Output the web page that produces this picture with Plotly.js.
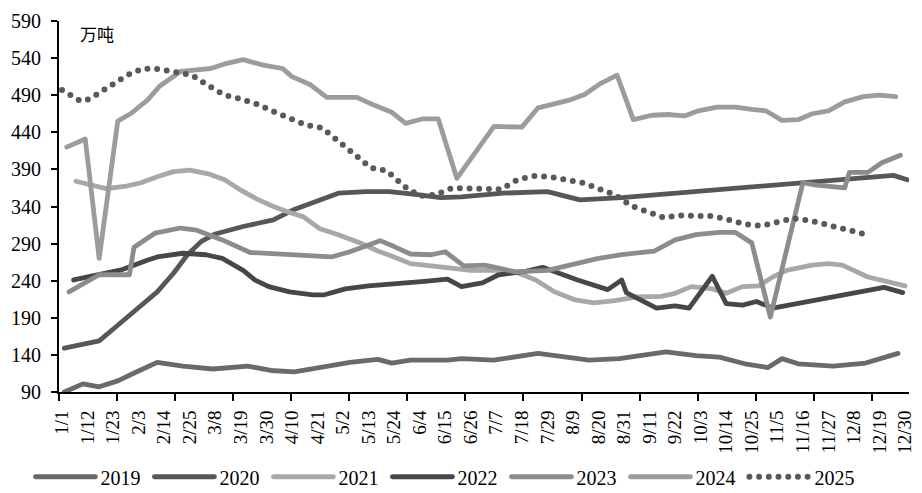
<!DOCTYPE html>
<html><head><meta charset="utf-8">
<script src="https://cdn.plot.ly/plotly-3.0.1.min.js"></script>
<style>
html,body{margin:0;padding:0;background:#fff;}
#chart{width:922px;height:493px;}
.js-line{stroke-linecap:round;stroke-linejoin:round;}
</style></head><body><div id="chart"></div>
<script>
const tickDays = [0,11,22,33,44,55,66,77,88,99,110,121,132,143,154,165,176,187,198,209,220,231,242,253,264,275,286,297,308,319,330,341,352,363];
const tickLabels = ['1/1','1/12','1/23','2/3','2/14','2/25','3/8','3/19','3/30','4/10','4/21','5/2','5/13','5/24','6/4','6/15','6/26','7/7','7/18','7/29','8/9','8/20','8/31','9/11','9/22','10/3','10/14','10/25','11/5','11/16','11/27','12/8','12/19','12/30'];
const yTicks = [90,140,190,240,290,340,390,440,490,540,590];
const years = ['2019','2020','2021','2022','2023','2024','2025'];

const days2019 = [1,9,16,24,32,41,52,65,80,90,100,111,124,136,142,150,166,172,186,205,227,240,260,273,283,294,304,310,317,332,346,360];
const vals2019 = [90,101,97,105,117,130,125,121,125,119,117,123,130,134,129,133,133,135,133,142,133,135,144,139,137,128,123,135,128,125,129,142];

const days2020 = [1,16,24,33,41,48,54,60,66,78,91,100,110,119,131,141,153,163,172,190,209,223,241,358,364];
const vals2020 = [149,159,180,204,225,250,275,293,303,313,322,336,348,358,360,360,356,352,353,358,360,349,352,382,376];

const days2021 = [6,19,27,34,41,48,55,63,70,77,84,91,98,104,111,119,129,136,143,150,159,168,176,187,195,204,212,221,229,238,247,258,264,271,280,286,293,300,306,312,323,330,336,347,356,363];
const vals2021 = [374,364,367,372,380,387,389,384,376,362,350,340,332,326,310,302,290,280,272,263,260,257,254,254,252,241,225,214,210,213,218,219,223,232,229,223,232,233,245,254,261,263,261,245,239,233];

const days2022 = [5,21,26,37,41,52,62,69,78,83,89,98,108,113,122,132,146,156,166,172,181,188,200,207,222,235,241,243,256,264,270,280,286,293,299,306,354,362];
const vals2022 = [241,252,255,268,272,277,275,270,254,241,232,225,221,221,229,233,236,239,242,232,237,248,253,258,241,228,241,224,203,206,203,246,209,207,212,203,231,224];

const days2023 = [3,16,29,31,40,51,58,69,81,96,116,124,132,137,143,150,159,165,173,182,188,195,209,221,231,241,255,264,273,283,290,297,305,319,324,337,339,347,353,361];
const vals2023 = [225,248,248,285,304,311,308,295,278,275,272,279,288,294,286,276,275,279,260,261,257,252,254,263,270,275,280,295,302,305,305,291,191,372,369,365,386,386,399,409];

const days2024 = [2,10,16,24,30,37,42,51,58,64,71,78,86,95,99,107,114,127,134,142,148,155,162,170,186,198,205,210,218,225,232,239,246,254,261,268,274,282,290,297,303,310,317,323,330,337,345,352,359];
const vals2024 = [420,431,270,455,466,484,502,522,524,526,533,538,531,526,515,504,487,487,477,467,452,458,458,378,448,447,473,477,483,491,506,517,457,463,464,462,469,474,474,471,469,456,457,465,469,481,488,490,488];

const days2025 = [0,8,12,16,21,28,35,42,49,56,63,70,77,84,91,98,105,112,119,126,133,140,147,154,161,168,175,182,189,196,203,210,217,224,231,238,245,252,259,266,273,280,287,294,301,308,315,322,329,336,343,348];
const vals2025 = [497,482,485,493,505,517,526,525,521,517,503,490,485,478,468,458,450,446,428,408,392,388,368,354,356,365,364,362,363,376,381,380,376,372,364,356,341,333,325,328,328,327,322,316,314,319,324,321,316,311,305,300];

const xs = [days2019,days2020,days2021,days2022,days2023,days2024,days2025];
const ys = [vals2019,vals2020,vals2021,vals2022,vals2023,vals2024,vals2025];
const colors = ['#6a6a6a','#575757','#a8a8a8','#474747','#8c8c8c','#9c9c9c','#595959'];

const traces = years.map((name,i)=>({
  type:'scatter', mode:'lines', name:name, x:xs[i], y:ys[i],
  line: i===6 ? {color:colors[i], width:6, dash:'0px,9.7px'} : {color:colors[i], width:4.8},
  hoverinfo:'skip'
}));

const layout = {
  width:922, height:493,
  margin:{l:59,r:13,t:21,b:101},
  paper_bgcolor:'#fff', plot_bgcolor:'#fff',
  font:{family:'"Liberation Serif","Times New Roman",serif', size:20, color:'#000'},
  showlegend:true,
  legend:{orientation:'h', xref:'container', yref:'container', x:0.033, xanchor:'left', y:0.033, yanchor:'middle',
    font:{size:20}, itemwidth:60, entrywidth:44, entrywidthmode:'pixels', bgcolor:'rgba(0,0,0,0)', traceorder:'normal'},
  xaxis:{range:[-1.3,364.7], tickmode:'array', tickvals:tickDays, ticktext:tickLabels, tickangle:-90, ticks:'',
    ticklabelstandoff:9,
    showgrid:false, zeroline:false, showline:true, linecolor:'#000', linewidth:2, tickfont:{size:19},
    minor:{ticks:'outside', ticklen:7, tickwidth:2, tickcolor:'#000', tick0:-1.3, dtick:25, showgrid:false}},
  yaxis:{range:[90,590], tickmode:'array', tickvals:yTicks, ticks:'outside', ticklen:6, tickwidth:2, tickcolor:'#000',
    ticklabelstandoff:6,
    showline:true, linewidth:2, linecolor:'#000', showgrid:false, zeroline:false, tickfont:{size:20}},
  annotations:[{text:'万吨', xref:'paper', yref:'paper', x:0.0447, y:0.965, xanchor:'center', yanchor:'middle', showarrow:false,
    font:{family:'"Noto Sans CJK SC"', size:17, color:'#000'}}]
};
Plotly.newPlot('chart', traces, layout, {staticPlot:true});
</script></body></html>
